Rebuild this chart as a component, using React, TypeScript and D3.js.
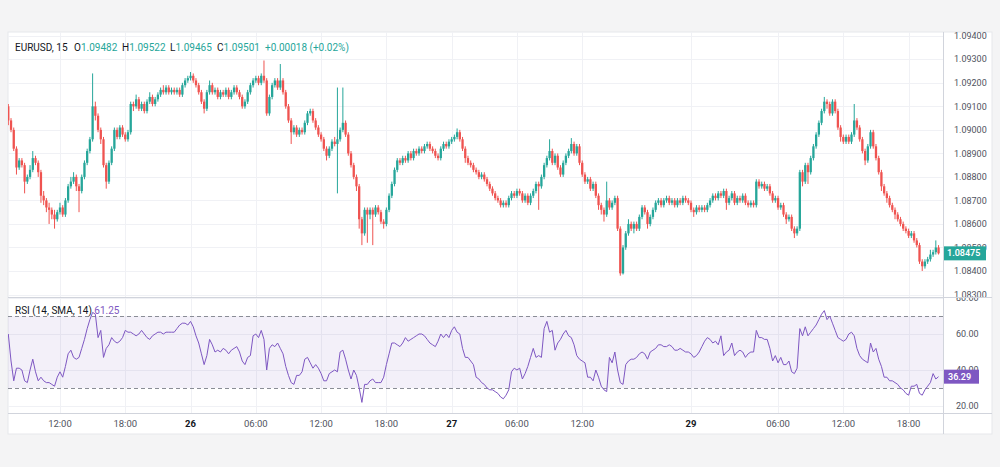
import React from 'react';
import * as d3 from 'd3';

// EURUSD 15-minute candles
const OPEN = [
  1.0910,1.0904,1.0900,1.0892,1.0884,1.0887,1.0885,1.0878,1.0880,1.0883,
  1.0888,1.0886,1.0882,1.0872,1.0870,1.0867,1.0866,1.0864,1.0862,1.0865,
  1.0867,1.0864,1.0870,1.0876,1.0878,1.0880,1.0876,1.0874,1.0880,1.0886,
  1.0891,1.0896,1.0910,1.0906,1.0900,1.0896,1.0885,1.0878,1.0886,1.0892,
  1.0900,1.0897,1.0901,1.0898,1.0896,1.0899,1.0911,1.0910,1.0913,1.0909,
  1.0911,1.0908,1.0912,1.0914,1.0911,1.0913,1.0915,1.0917,1.0916,1.0918,
  1.0916,1.0917,1.0916,1.0917,1.0915,1.0919,1.0921,1.0922,1.0923,1.0921,
  1.0919,1.0916,1.0912,1.0909,1.0916,1.0919,1.0916,1.0917,1.0914,1.0916,
  1.0915,1.0917,1.0914,1.0916,1.0918,1.0916,1.0914,1.0910,1.0912,1.0916,
  1.0919,1.0921,1.0922,1.0920,1.0923,1.0921,1.0907,1.0914,1.0919,1.0921,
  1.0918,1.0921,1.0916,1.0910,1.0904,1.0899,1.0901,1.0898,1.0900,1.0899,
  1.0903,1.0907,1.0908,1.0904,1.0901,1.0898,1.0896,1.0892,1.0889,1.0892,
  1.0895,1.0894,1.0896,1.0900,1.0903,1.0898,1.0890,1.0885,1.0880,1.0876,
  1.0862,1.0856,1.0866,1.0864,1.0866,1.0864,1.0867,1.0865,1.0861,1.0860,
  1.0866,1.0872,1.0877,1.0883,1.0887,1.0886,1.0888,1.0887,1.0890,1.0888,
  1.0891,1.0890,1.0892,1.0891,1.0893,1.0894,1.0892,1.0891,1.0889,1.0888,
  1.0892,1.0894,1.0893,1.0895,1.0896,1.0897,1.0899,1.0896,1.0892,1.0888,
  1.0886,1.0885,1.0883,1.0882,1.0880,1.0881,1.0879,1.0877,1.0875,1.0873,
  1.0871,1.0870,1.0868,1.0869,1.0868,1.0871,1.0873,1.0872,1.0874,1.0873,
  1.0870,1.0872,1.0869,1.0872,1.0874,1.0877,1.0876,1.0880,1.0885,1.0888,
  1.0891,1.0886,1.0889,1.0884,1.0881,1.0886,1.0889,1.0891,1.0894,1.0890,
  1.0893,1.0886,1.0881,1.0878,1.0879,1.0875,1.0877,1.0872,1.0868,1.0866,
  1.0864,1.0870,1.0867,1.0869,1.0871,1.0858,1.0839,1.0850,1.0856,1.0860,
  1.0858,1.0860,1.0858,1.0863,1.0867,1.0865,1.0860,1.0863,1.0866,1.0869,
  1.0870,1.0868,1.0870,1.0871,1.0869,1.0870,1.0868,1.0870,1.0869,1.0871,
  1.0870,1.0869,1.0866,1.0865,1.0867,1.0866,1.0867,1.0866,1.0868,1.0870,
  1.0872,1.0871,1.0873,1.0872,1.0874,1.0869,1.0871,1.0873,1.0869,1.0871,
  1.0870,1.0872,1.0869,1.0868,1.0869,1.0868,1.0878,1.0876,1.0877,1.0875,
  1.0876,1.0873,1.0870,1.0871,1.0867,1.0868,1.0864,1.0862,1.0863,1.0858,
  1.0856,1.0858,1.0882,1.0878,1.0885,1.0882,1.0888,1.0893,1.0898,1.0903,
  1.0908,1.0912,1.0911,1.0907,1.0912,1.0908,1.0901,1.0897,1.0895,1.0897,
  1.0895,1.0898,1.0904,1.0901,1.0896,1.0891,1.0887,1.0893,1.0899,1.0893,
  1.0888,1.0882,1.0876,1.0873,1.0871,1.0868,1.0866,1.0864,1.0862,1.0860,
  1.0858,1.0857,1.0855,1.0856,1.0853,1.0851,1.0844,1.0842,1.0844,1.0845,
  1.0847,1.0848,1.0850,
];

const HIGH = [
  1.0911,1.0905,1.0901,1.0893,1.0888,1.0888,1.0886,1.0881,1.0885,1.0891,
  1.0889,1.0887,1.0883,1.0874,1.0871,1.0869,1.0867,1.0866,1.0866,1.0869,
  1.0868,1.0871,1.0877,1.0880,1.0882,1.0881,1.0877,1.0881,1.0887,1.0892,
  1.0897,1.0924,1.0912,1.0907,1.0901,1.0897,1.0886,1.0887,1.0893,1.0901,
  1.0901,1.0902,1.0902,1.0899,1.0900,1.0912,1.0912,1.0915,1.0914,1.0912,
  1.0912,1.0913,1.0916,1.0915,1.0914,1.0916,1.0918,1.0919,1.0919,1.0919,
  1.0918,1.0918,1.0918,1.0918,1.0920,1.0922,1.0923,1.09246,1.0924,1.0922,
  1.0920,1.0917,1.0913,1.0917,1.0921,1.0920,1.0918,1.0918,1.0917,1.0917,
  1.0918,1.0918,1.0917,1.0919,1.0919,1.0917,1.0915,1.0913,1.0917,1.0920,
  1.0922,1.0923,1.0923,1.0924,1.09295,1.0922,1.0915,1.0920,1.0922,1.0922,
  1.0928,1.0922,1.0917,1.0911,1.0905,1.0902,1.0902,1.0901,1.0901,1.0904,
  1.0908,1.0909,1.0909,1.0905,1.0902,1.0899,1.0897,1.0893,1.0893,1.0896,
  1.0897,1.0918,1.0901,1.0918,1.0904,1.0899,1.0891,1.0886,1.0881,1.0877,
  1.0863,1.0867,1.0867,1.0867,1.0867,1.0868,1.0868,1.0866,1.0862,1.0867,
  1.0873,1.0878,1.0884,1.0888,1.0888,1.0889,1.0889,1.0891,1.0891,1.0892,
  1.0892,1.0893,1.0893,1.0894,1.0895,1.0895,1.0893,1.0892,1.0890,1.0893,
  1.0895,1.0895,1.0896,1.0897,1.0898,1.09006,1.0900,1.0897,1.0893,1.0889,
  1.0887,1.0886,1.0884,1.0883,1.0882,1.0882,1.0880,1.0878,1.0876,1.0874,
  1.0872,1.0871,1.0870,1.0870,1.0872,1.0874,1.0874,1.0875,1.0875,1.0874,
  1.0873,1.0873,1.0873,1.0875,1.0878,1.0878,1.0881,1.0886,1.0889,1.0896,
  1.0892,1.0890,1.0890,1.0885,1.0887,1.0890,1.0892,1.08965,1.0895,1.0894,
  1.0894,1.0887,1.0882,1.0880,1.0880,1.0878,1.0878,1.0873,1.0869,1.0867,
  1.0878,1.0871,1.0870,1.0872,1.0872,1.0859,1.0851,1.0857,1.0862,1.0861,
  1.0861,1.0861,1.0864,1.0868,1.0868,1.0866,1.0864,1.0867,1.0870,1.0871,
  1.0871,1.0871,1.0872,1.0872,1.0871,1.0871,1.0871,1.0871,1.0872,1.0872,
  1.0871,1.0870,1.0867,1.0868,1.0868,1.0868,1.0868,1.0869,1.0871,1.0873,
  1.0873,1.0874,1.0874,1.0875,1.0875,1.0872,1.0874,1.0874,1.0872,1.0872,
  1.0873,1.0873,1.0870,1.0870,1.0870,1.0879,1.0879,1.0878,1.0878,1.0877,
  1.0877,1.0874,1.0872,1.0872,1.0869,1.0869,1.0865,1.0864,1.0864,1.0859,
  1.0859,1.0883,1.0883,1.0886,1.0886,1.0889,1.0894,1.0899,1.0904,1.0909,
  1.0914,1.0913,1.0912,1.0913,1.0913,1.0909,1.0902,1.0898,1.0898,1.0898,
  1.0899,1.0911,1.0905,1.0902,1.0897,1.0892,1.0894,1.0900,1.0900,1.0894,
  1.0889,1.0883,1.0877,1.0874,1.0872,1.0869,1.0867,1.0865,1.0863,1.0861,
  1.0859,1.0858,1.0857,1.0857,1.0854,1.0852,1.0845,1.0845,1.0846,1.0849,
  1.0849,1.0853,1.0851,
];

const LOW = [
  1.0902,1.0899,1.0891,1.0881,1.0883,1.0884,1.0873,1.0877,1.0879,1.0882,
  1.0885,1.0880,1.0869,1.0868,1.0865,1.0860,1.0862,1.0858,1.0861,1.0864,
  1.0863,1.0863,1.0869,1.0875,1.0877,1.0874,1.0865,1.0873,1.0879,1.0885,
  1.0890,1.0895,1.0904,1.0899,1.0894,1.0884,1.0875,1.0877,1.0885,1.0891,
  1.0896,1.0896,1.0897,1.0895,1.0895,1.0898,1.0908,1.0909,1.0908,1.0908,
  1.0907,1.0907,1.0911,1.0910,1.0910,1.0912,1.0914,1.0915,1.0915,1.0915,
  1.0915,1.0915,1.0915,1.0914,1.0914,1.0918,1.0920,1.0921,1.0920,1.0918,
  1.0915,1.0911,1.0907,1.0908,1.0915,1.0915,1.0915,1.0913,1.0913,1.0914,
  1.0914,1.0913,1.0913,1.0915,1.0915,1.0913,1.0909,1.0909,1.0911,1.0915,
  1.0918,1.0920,1.0919,1.0919,1.0920,1.0906,1.0906,1.0913,1.0918,1.0917,
  1.0917,1.0915,1.0909,1.0903,1.0894,1.0898,1.0897,1.0897,1.0898,1.0898,
  1.0902,1.0906,1.0903,1.0900,1.0897,1.0895,1.0891,1.0887,1.0888,1.0891,
  1.0893,1.0873,1.0895,1.0899,1.0897,1.0889,1.0884,1.0879,1.0874,1.0858,
  1.0851,1.0855,1.0852,1.0862,1.0851,1.0863,1.0864,1.0860,1.0858,1.0859,
  1.0865,1.0871,1.0876,1.0882,1.0885,1.0885,1.0886,1.0886,1.0887,1.0887,
  1.0889,1.0889,1.0890,1.0890,1.0892,1.0891,1.0890,1.0888,1.0887,1.0887,
  1.0891,1.0892,1.0892,1.0894,1.0895,1.0896,1.0895,1.0891,1.0886,1.0885,
  1.0884,1.0882,1.0881,1.0879,1.0879,1.0878,1.0876,1.0874,1.0872,1.0870,
  1.0869,1.0867,1.0867,1.0867,1.0867,1.0870,1.0871,1.0871,1.0872,1.0869,
  1.0869,1.0868,1.0868,1.0871,1.0873,1.0866,1.0875,1.0879,1.0884,1.0887,
  1.0885,1.0885,1.0883,1.0880,1.0880,1.0885,1.0888,1.0890,1.0889,1.0889,
  1.0885,1.0880,1.0877,1.0877,1.0874,1.0874,1.0871,1.0866,1.0864,1.0861,
  1.0863,1.0866,1.0866,1.0868,1.0857,1.0838,1.08385,1.0849,1.0855,1.0857,
  1.0856,1.0857,1.0857,1.0862,1.0864,1.0858,1.0859,1.0862,1.0865,1.0868,
  1.0867,1.0867,1.0869,1.0868,1.0868,1.0867,1.0867,1.0868,1.0868,1.0869,
  1.0868,1.0865,1.0863,1.0864,1.0865,1.0865,1.0865,1.0865,1.0867,1.0869,
  1.0870,1.0870,1.0871,1.0871,1.0866,1.0868,1.0870,1.0868,1.0868,1.0869,
  1.0869,1.0868,1.0867,1.0867,1.0867,1.0867,1.0875,1.0875,1.0874,1.0874,
  1.0872,1.0869,1.0869,1.0866,1.0866,1.0863,1.0860,1.0861,1.0857,1.0854,
  1.0855,1.0857,1.0876,1.0877,1.0877,1.0881,1.0887,1.0892,1.0897,1.0902,
  1.0907,1.0909,1.0906,1.0906,1.0907,1.0900,1.0895,1.0894,1.0894,1.0894,
  1.0894,1.0897,1.0900,1.0895,1.0890,1.0885,1.0886,1.0892,1.0892,1.0887,
  1.0881,1.0874,1.0872,1.0869,1.0867,1.0865,1.0862,1.0861,1.0859,1.0857,
  1.0856,1.0854,1.0854,1.0852,1.0850,1.0843,1.0840,1.0841,1.0843,1.0844,
  1.0846,1.0847,1.0847,
];

const CLOSE = [
  1.0904,1.0900,1.0892,1.0884,1.0887,1.0885,1.0878,1.0880,1.0883,1.0888,
  1.0886,1.0882,1.0872,1.0870,1.0867,1.0866,1.0864,1.0862,1.0865,1.0867,
  1.0864,1.0870,1.0876,1.0878,1.0880,1.0876,1.0874,1.0880,1.0886,1.0891,
  1.0896,1.0910,1.0906,1.0900,1.0896,1.0885,1.0878,1.0886,1.0892,1.0900,
  1.0897,1.0901,1.0898,1.0896,1.0899,1.0911,1.0910,1.0913,1.0909,1.0911,
  1.0908,1.0912,1.0914,1.0911,1.0913,1.0915,1.0917,1.0916,1.0918,1.0916,
  1.0917,1.0916,1.0917,1.0915,1.0919,1.0921,1.0922,1.0923,1.0921,1.0919,
  1.0916,1.0912,1.0909,1.0916,1.0919,1.0916,1.0917,1.0914,1.0916,1.0915,
  1.0917,1.0914,1.0916,1.0918,1.0916,1.0914,1.0910,1.0912,1.0916,1.0919,
  1.0921,1.0922,1.0920,1.0923,1.0921,1.0907,1.0914,1.0919,1.0921,1.0918,
  1.0921,1.0916,1.0910,1.0904,1.0899,1.0901,1.0898,1.0900,1.0899,1.0903,
  1.0907,1.0908,1.0904,1.0901,1.0898,1.0896,1.0892,1.0889,1.0892,1.0895,
  1.0894,1.0896,1.0900,1.0903,1.0898,1.0890,1.0885,1.0880,1.0876,1.0862,
  1.0856,1.0866,1.0864,1.0866,1.0864,1.0867,1.0865,1.0861,1.0860,1.0866,
  1.0872,1.0877,1.0883,1.0887,1.0886,1.0888,1.0887,1.0890,1.0888,1.0891,
  1.0890,1.0892,1.0891,1.0893,1.0894,1.0892,1.0891,1.0889,1.0888,1.0892,
  1.0894,1.0893,1.0895,1.0896,1.0897,1.0899,1.0896,1.0892,1.0888,1.0886,
  1.0885,1.0883,1.0882,1.0880,1.0881,1.0879,1.0877,1.0875,1.0873,1.0871,
  1.0870,1.0868,1.0869,1.0868,1.0871,1.0873,1.0872,1.0874,1.0873,1.0870,
  1.0872,1.0869,1.0872,1.0874,1.0877,1.0876,1.0880,1.0885,1.0888,1.0891,
  1.0886,1.0889,1.0884,1.0881,1.0886,1.0889,1.0891,1.0894,1.0890,1.0893,
  1.0886,1.0881,1.0878,1.0879,1.0875,1.0877,1.0872,1.0868,1.0866,1.0864,
  1.0870,1.0867,1.0869,1.0871,1.0858,1.0839,1.0850,1.0856,1.0860,1.0858,
  1.0860,1.0858,1.0863,1.0867,1.0865,1.0860,1.0863,1.0866,1.0869,1.0870,
  1.0868,1.0870,1.0871,1.0869,1.0870,1.0868,1.0870,1.0869,1.0871,1.0870,
  1.0869,1.0866,1.0865,1.0867,1.0866,1.0867,1.0866,1.0868,1.0870,1.0872,
  1.0871,1.0873,1.0872,1.0874,1.0869,1.0871,1.0873,1.0869,1.0871,1.0870,
  1.0872,1.0869,1.0868,1.0869,1.0868,1.0878,1.0876,1.0877,1.0875,1.0876,
  1.0873,1.0870,1.0871,1.0867,1.0868,1.0864,1.0862,1.0863,1.0858,1.0856,
  1.0858,1.0882,1.0878,1.0885,1.0882,1.0888,1.0893,1.0898,1.0903,1.0908,
  1.0912,1.0911,1.0907,1.0912,1.0908,1.0901,1.0897,1.0895,1.0897,1.0895,
  1.0898,1.0904,1.0901,1.0896,1.0891,1.0887,1.0893,1.0899,1.0893,1.0888,
  1.0882,1.0876,1.0873,1.0871,1.0868,1.0866,1.0864,1.0862,1.0860,1.0858,
  1.0857,1.0855,1.0856,1.0853,1.0851,1.0844,1.0842,1.0844,1.0845,1.0847,
  1.0848,1.0850,1.08475,
];

// RSI (14) line
const RSI = [
  60,45,34,41,41,40,34,33,40,46,
  39,34,36,34,33,33,32,31,36,39,
  36,42,49,51,47,46,47,52,57,63,
  68,72,71,58,62,47,52,54,58,56,
  55,56,58,62,61,61,60,59,60,62,
  60,58,57,59,60,61,61,60,61,61,
  61,61,63,65,66,66,65,67,64,59,
  55,49,43,48,57,54,50,51,50,52,
  51,49,51,52,53,50,45,43,47,48,
  59,60,58,62,57,40,52,54,53,55,
  52,49,42,37,33,32,37,37,39,46,
  47,44,41,43,41,38,34,34,38,39,
  40,39,50,51,46,40,35,40,37,30,
  22,32,32,34,35,33,33,33,36,43,
  49,55,55,54,53,55,58,56,57,58,
  59,60,60,59,57,55,54,53,56,60,
  58,60,58,62,64,61,60,52,47,47,
  45,43,36,35,33,32,30,29,29,28,
  27,25,24,26,29,39,41,40,41,35,
  38,42,47,52,47,48,47,63,67,61,
  62,51,55,57,60,62,59,58,54,48,
  46,45,44,36,36,34,40,36,31,29,
  28,47,44,50,40,33,32,43,45,46,
  46,47,49,50,49,46,50,51,52,54,
  54,53,53,54,53,51,51,52,51,50,
  50,49,47,48,50,53,56,58,57,55,
  56,54,59,48,50,51,55,48,50,51,
  50,47,49,50,50,62,58,58,57,57,
  52,45,48,44,47,43,43,45,39,38,
  41,63,59,64,59,61,63,65,68,71,
  73,68,70,66,62,58,57,56,57,60,
  61,59,52,48,46,45,44,55,50,52,
  46,42,36,36,34,34,33,32,30,29,
  27,26,31,31,32,27,26,29,31,33,
  38,35,36.29,
];

const PRICE_TICKS = [1.094, 1.093, 1.092, 1.091, 1.09, 1.089, 1.088, 1.087, 1.086, 1.085, 1.084, 1.083];
const RSI_TICKS = [80, 60, 40, 20];
const RSI_BANDS = [70, 30];
const TIME_TICK_BARS = [19, 43, 67, 91, 115, 139, 163, 187, 211, 251, 283, 307, 331];
const TIME_TICK_LABELS = ['12:00', '18:00', '26', '06:00', '12:00', '18:00', '27', '06:00', '12:00', '29', '06:00', '12:00', '18:00'];
const DAY_LABELS = ['26', '27', '29'];

const SYMBOL = 'EURUSD, 15';
const OHLC_LEGEND = [
  { k: 'O', v: '1.09482' },
  { k: 'H', v: '1.09522' },
  { k: 'L', v: '1.09465' },
  { k: 'C', v: '1.09501' },
];
const CHANGE_LEGEND = '+0.00018 (+0.02%)';
const RSI_TITLE = 'RSI (14, SMA, 14)';
const RSI_LEGEND_VALUE = '61.25';

const UP = '#26a69a';
const DOWN = '#ef5350';
const PURPLE = '#7e57c2';
const FONT = 'Roboto, "Open Sans", sans-serif';

export default function App() {
  const n = CLOSE.length;
  const left = 8, right = 992, axisX = 943;
  const top = 32, paneSep = 297, rsiBottom = 413, bottom = 434;

  const x = d3.scaleLinear().domain([0, n - 1]).range([8.3, 8.3 + 2.72 * (n - 1)]);
  const y = d3.scaleLinear().domain([1.083, 1.094]).range([294.5, 35.8]);
  const ry = d3.scaleLinear().domain([20, 80]).range([406, 298]);

  const rsiLine = d3.line<number>().x((_, i) => x(i)).y((d) => ry(d));
  const fmtPrice = d3.format('.5f');
  const fmtRsi = d3.format('.2f');
  const lastClose = CLOSE[n - 1];
  const lastRsi = RSI[n - 1];

  const legendX = [74, 122, 170, 217];
  const bodyW = 2.3;

  return (
    <svg width={1000} height={467} style={{ position: 'absolute', left: 0, top: 0, fontFamily: FONT }}>
      <defs>
        <clipPath id="pricePane"><rect x={left} y={top} width={axisX - left} height={paneSep - top} /></clipPath>
        <clipPath id="rsiPane"><rect x={left} y={paneSep + 1} width={axisX - left} height={rsiBottom - paneSep - 1} /></clipPath>
        <clipPath id="priceAxis"><rect x={axisX} y={top} width={right - axisX} height={paneSep - top} /></clipPath>
        <clipPath id="rsiAxis"><rect x={axisX} y={paneSep + 1} width={right - axisX} height={rsiBottom - paneSep - 1} /></clipPath>
      </defs>
      <rect x={0} y={0} width={1000} height={467} fill="#f4f4f5" />
      <rect x={left} y={top} width={right - left} height={bottom - top} fill="#ffffff" stroke="#e6e7eb" />

      {/* grid */}
      <g stroke="#f0f1f5" strokeWidth={1}>
        {PRICE_TICKS.map((p) => (
          <line key={'hg' + p} x1={left} x2={axisX} y1={Math.round(y(p)) + 0.5} y2={Math.round(y(p)) + 0.5} />
        ))}
        {RSI_TICKS.map((r) => (
          <line key={'rg' + r} x1={left} x2={axisX} y1={Math.round(ry(r)) + 0.5} y2={Math.round(ry(r)) + 0.5} />
        ))}
        {TIME_TICK_BARS.map((b) => (
          <line key={'vg' + b} x1={Math.round(x(b)) + 0.5} x2={Math.round(x(b)) + 0.5} y1={top} y2={rsiBottom} />
        ))}
      </g>

      {/* candles */}
      <g clipPath="url(#pricePane)">
        {CLOSE.map((c, i) => {
          const o = OPEN[i];
          const col = c >= o ? UP : DOWN;
          const cx = x(i);
          const yT = y(Math.max(o, c));
          const yB = y(Math.min(o, c));
          return (
            <g key={i}>
              <line x1={cx} x2={cx} y1={y(HIGH[i])} y2={y(LOW[i])} stroke={col} strokeWidth={1} />
              <rect x={cx - bodyW / 2} y={yT} width={bodyW} height={Math.max(1, yB - yT)} fill={col} />
            </g>
          );
        })}
      </g>

      {/* RSI pane */}
      <g clipPath="url(#rsiPane)">
        <rect x={left} y={ry(RSI_BANDS[0])} width={axisX - left} height={ry(RSI_BANDS[1]) - ry(RSI_BANDS[0])} fill={PURPLE} fillOpacity={0.09} />
        {RSI_BANDS.map((b) => (
          <line key={'band' + b} x1={left} x2={axisX} y1={Math.round(ry(b)) + 0.5} y2={Math.round(ry(b)) + 0.5} stroke="#8a8d96" strokeDasharray="4 3" strokeWidth={1} />
        ))}
        <path d={rsiLine(RSI) || ''} fill="none" stroke={PURPLE} strokeWidth={1} />
      </g>

      {/* separators & axis lines */}
      <line x1={left} x2={right} y1={paneSep + 0.5} y2={paneSep + 0.5} stroke="#d1d4dc" />
      <line x1={left} x2={right} y1={rsiBottom + 0.5} y2={rsiBottom + 0.5} stroke="#d1d4dc" />
      <line x1={axisX + 0.5} x2={axisX + 0.5} y1={top} y2={bottom} stroke="#d1d4dc" />

      {/* price axis */}
      <g clipPath="url(#priceAxis)" fontSize={9} fill="#50535e">
        {PRICE_TICKS.map((p) => (
          <text key={'pt' + p} x={954} y={y(p)} dy="0.35em">{fmtPrice(p)}</text>
        ))}
        <rect x={axisX + 1} y={y(lastClose) - 7} width={42} height={14} fill={UP} />
        <text x={947} y={y(lastClose)} dy="0.35em" fill="#ffffff" fontWeight={600}>{fmtPrice(lastClose)}</text>
      </g>

      {/* RSI axis */}
      <g clipPath="url(#rsiAxis)" fontSize={9} fill="#50535e">
        {RSI_TICKS.map((r) => (
          <text key={'rt' + r} x={956} y={ry(r)} dy="0.35em">{fmtRsi(r)}</text>
        ))}
        <rect x={axisX + 1} y={ry(lastRsi) - 7} width={35} height={14} fill={PURPLE} />
        <text x={948} y={ry(lastRsi)} dy="0.35em" fill="#ffffff" fontWeight={600}>{fmtRsi(lastRsi)}</text>
      </g>

      {/* time axis */}
      <g fontSize={9.5} fill="#50535e" textAnchor="middle">
        {TIME_TICK_BARS.map((b, k) => (
          <text key={'tt' + k} x={x(b)} y={424} dy="0.35em" fontWeight={DAY_LABELS.includes(TIME_TICK_LABELS[k]) ? 700 : 400} fill={DAY_LABELS.includes(TIME_TICK_LABELS[k]) ? '#131722' : '#50535e'}>
            {TIME_TICK_LABELS[k]}
          </text>
        ))}
      </g>

      {/* legends */}
      <g fontSize={10}>
        <text x={15} y={47} dy="0.35em" fill="#131722">{SYMBOL}</text>
        {OHLC_LEGEND.map((d, k) => (
          <text key={d.k} x={legendX[k]} y={47} dy="0.35em" fill="#131722">
            {d.k}<tspan fill={UP}>{d.v}</tspan>
          </text>
        ))}
        <text x={265} y={47} dy="0.35em" fill={UP}>{CHANGE_LEGEND}</text>
        <text x={15} y={310} dy="0.35em" fill="#131722">
          {RSI_TITLE} <tspan fill={PURPLE}>{RSI_LEGEND_VALUE}</tspan>
        </text>
      </g>
    </svg>
  );
}
